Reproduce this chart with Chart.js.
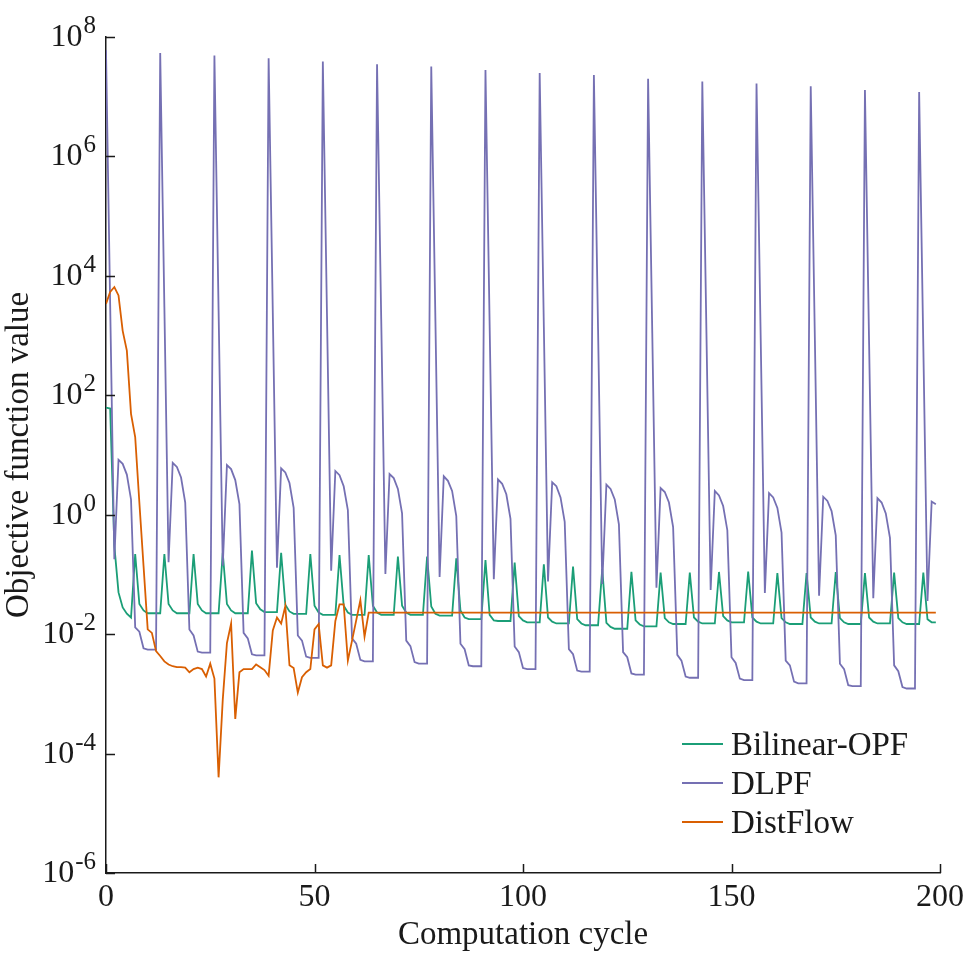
<!DOCTYPE html>
<html>
<head>
<meta charset="utf-8">
<script src="https://cdn.jsdelivr.net/npm/chart.js@4.4.1/dist/chart.umd.min.js"></script>
<style>
  html, body { margin: 0; padding: 0; background: #fff; }
  canvas { display: block; }
</style>
</head>
<body>
<canvas id="objChart" width="965" height="960"></canvas>
<script>
// computation cycle index 0..199
const cycles = Array.from({ length: 200 }, (_, i) => i);

const bilinearOpf = [
  62, 60, 0.3, 0.050, 0.028, 0.022, 0.019,
  0.22, 0.032, 0.025, 0.0224, 0.0224, 0.0224, 0.0224,
  0.22, 0.032, 0.025, 0.0224, 0.0224, 0.0224, 0.0224,
  0.22, 0.032, 0.025, 0.0224, 0.0224, 0.0224, 0.0224,
  0.23, 0.032, 0.025, 0.0224, 0.0224, 0.0224, 0.0224,
  0.25, 0.033, 0.026, 0.0234, 0.0234, 0.0234, 0.0234,
  0.23, 0.031, 0.024, 0.0219, 0.0219, 0.0219, 0.0219,
  0.22, 0.030, 0.023, 0.021, 0.021, 0.021, 0.021,
  0.21, 0.030, 0.023, 0.021, 0.021, 0.021, 0.021,
  0.21, 0.030, 0.023, 0.021, 0.021, 0.021, 0.021,
  0.20, 0.030, 0.023, 0.021, 0.021, 0.021, 0.021,
  0.20, 0.029, 0.022, 0.0204, 0.0204, 0.0204, 0.0204,
  0.186, 0.025, 0.019, 0.0178, 0.0178, 0.0178, 0.0178,
  0.174, 0.021, 0.017, 0.0166, 0.0166, 0.0166, 0.0166,
  0.158, 0.020, 0.017, 0.0158, 0.0158, 0.0158, 0.0158,
  0.148, 0.019, 0.0162, 0.0151, 0.0151, 0.0151, 0.0151,
  0.135, 0.0178, 0.0151, 0.0141, 0.0141, 0.0141, 0.0141,
  0.123, 0.0155, 0.0132, 0.0123, 0.0123, 0.0123, 0.0123,
  0.111, 0.017, 0.0145, 0.0135, 0.0135, 0.0135, 0.0135,
  0.107, 0.0186, 0.0158, 0.0148, 0.0148, 0.0148, 0.0148,
  0.107, 0.019, 0.0162, 0.0151, 0.0151, 0.0151, 0.0151,
  0.110, 0.020, 0.017, 0.0158, 0.0158, 0.0158, 0.0158,
  0.112, 0.019, 0.0162, 0.0151, 0.0151, 0.0151, 0.0151,
  0.105, 0.0186, 0.0158, 0.0148, 0.0148, 0.0148, 0.0148,
  0.105, 0.019, 0.0162, 0.0151, 0.0151, 0.0151, 0.0151,
  0.110, 0.0186, 0.0158, 0.0148, 0.0148, 0.0148, 0.0148,
  0.105, 0.019, 0.0162, 0.0151, 0.0151, 0.0151, 0.0151,
  0.107, 0.0186, 0.0158, 0.0148, 0.0148, 0.0148, 0.0148,
  0.107, 0.0178, 0.0158, 0.0158
];

const dlpf = [
  6.0e7, 3.3e3, 0.18, 8.3, 7.1, 4.7, 1.8, 1.3e-2, 1.1e-2, 5.8e-3, 5.5e-3, 5.5e-3, 5.5e-3,
  5.4e7, 3.0e3, 0.16, 7.4, 6.3, 4.2, 1.6, 1.2e-2, 9.5e-3, 5.1e-3, 4.9e-3, 4.9e-3, 4.9e-3,
  4.9e7, 2.6e3, 0.14, 6.8, 5.8, 3.8, 1.5, 1.05e-2, 8.5e-3, 4.6e-3, 4.4e-3, 4.4e-3, 4.4e-3,
  4.4e7, 2.4e3, 0.13, 6.0, 5.1, 3.4, 1.3, 9.5e-3, 7.8e-3, 4.2e-3, 4.0e-3, 4.0e-3, 4.0e-3,
  3.9e7, 2.1e3, 0.115, 5.4, 4.6, 3.0, 1.2, 8.5e-3, 6.9e-3, 3.7e-3, 3.5e-3, 3.5e-3, 3.5e-3,
  3.5e7, 1.9e3, 0.102, 4.8, 4.1, 2.7, 1.05, 7.8e-3, 6.3e-3, 3.4e-3, 3.2e-3, 3.2e-3, 3.2e-3,
  3.2e7, 1.7e3, 0.091, 4.4, 3.7, 2.5, 0.95, 6.9e-3, 5.6e-3, 3.0e-3, 2.9e-3, 2.9e-3, 2.9e-3,
  2.8e7, 1.5e3, 0.083, 3.9, 3.3, 2.2, 0.85, 6.2e-3, 5.0e-3, 2.7e-3, 2.6e-3, 2.6e-3, 2.6e-3,
  2.5e7, 1.4e3, 0.076, 3.5, 3.0, 1.95, 0.76, 5.6e-3, 4.6e-3, 2.45e-3, 2.35e-3, 2.35e-3, 2.35e-3,
  2.3e7, 1.26e3, 0.069, 3.2, 2.7, 1.8, 0.69, 5.0e-3, 4.1e-3, 2.2e-3, 2.1e-3, 2.1e-3, 2.1e-3,
  2.0e7, 1.1e3, 0.060, 2.8, 2.4, 1.6, 0.62, 4.5e-3, 3.6e-3, 1.95e-3, 1.86e-3, 1.86e-3, 1.86e-3,
  1.8e7, 1.0e3, 0.055, 2.5, 2.1, 1.4, 0.55, 4.1e-3, 3.3e-3, 1.8e-3, 1.7e-3, 1.7e-3, 1.7e-3,
  1.66e7, 910, 0.049, 2.3, 1.95, 1.3, 0.50, 3.6e-3, 3.0e-3, 1.6e-3, 1.5e-3, 1.5e-3, 1.5e-3,
  1.5e7, 810, 0.044, 2.0, 1.7, 1.15, 0.45, 3.2e-3, 2.6e-3, 1.4e-3, 1.35e-3, 1.35e-3, 1.35e-3,
  1.3e7, 720, 0.040, 1.9, 1.6, 1.05, 0.41, 3.0e-3, 2.4e-3, 1.3e-3, 1.23e-3, 1.23e-3, 1.23e-3,
  1.2e7, 660, 0.036, 1.66, 1.5
];

const distFlow = [
  3400, 5400, 6500, 4700, 1200, 560, 49, 20, 1.6, 0.14,
  0.012, 0.0105, 0.0052, 0.0043, 0.0035, 0.0031, 0.0029, 0.0028, 0.0028, 0.00275,
  0.0023, 0.0026, 0.00275, 0.0026, 0.00195, 0.0032, 0.0018, 4.0e-5, 0.0008, 0.0071,
  0.015, 0.00038, 0.0023, 0.0026, 0.0026, 0.0026, 0.0031, 0.0028, 0.0025, 0.0020,
  0.0115, 0.019, 0.015, 0.0295, 0.0030, 0.0027, 0.00105, 0.0019, 0.0023, 0.0026,
  0.012, 0.0148, 0.0030, 0.00275, 0.0030, 0.0166, 0.0316, 0.0316, 0.0036, 0.0078,
  0.017, 0.037, 0.0091,
  0.0229, 0.0229, 0.0229, 0.0229, 0.0229, 0.0229, 0.0229, 0.0229, 0.0229, 0.0229,
  0.0229, 0.0229, 0.0229, 0.0229, 0.0229, 0.0229, 0.0229, 0.0229, 0.0229, 0.0229,
  0.0229, 0.0229, 0.0229, 0.0229, 0.0229, 0.0229, 0.0229, 0.0229, 0.0229, 0.0229,
  0.0229, 0.0229, 0.0229, 0.0229, 0.0229, 0.0229, 0.0229, 0.0229, 0.0229, 0.0229,
  0.0229, 0.0229, 0.0229, 0.0229, 0.0229, 0.0229, 0.0229, 0.0229, 0.0229, 0.0229,
  0.0229, 0.0229, 0.0229, 0.0229, 0.0229, 0.0229, 0.0229, 0.0229, 0.0229, 0.0229,
  0.0229, 0.0229, 0.0229, 0.0229, 0.0229, 0.0229, 0.0229, 0.0229, 0.0229, 0.0229,
  0.0229, 0.0229, 0.0229, 0.0229, 0.0229, 0.0229, 0.0229, 0.0229, 0.0229, 0.0229,
  0.0229, 0.0229, 0.0229, 0.0229, 0.0229, 0.0229, 0.0229, 0.0229, 0.0229, 0.0229,
  0.0229, 0.0229, 0.0229, 0.0229, 0.0229, 0.0229, 0.0229, 0.0229, 0.0229, 0.0229,
  0.0229, 0.0229, 0.0229, 0.0229, 0.0229, 0.0229, 0.0229, 0.0229, 0.0229, 0.0229,
  0.0229, 0.0229, 0.0229, 0.0229, 0.0229, 0.0229, 0.0229, 0.0229, 0.0229, 0.0229,
  0.0229, 0.0229, 0.0229, 0.0229, 0.0229, 0.0229, 0.0229, 0.0229, 0.0229, 0.0229,
  0.0229, 0.0229, 0.0229, 0.0229, 0.0229, 0.0229, 0.0229
];

const xTicks = [0, 50, 100, 150, 200];
const yTicks = [1e-6, 1e-4, 1e-2, 1e0, 1e2, 1e4, 1e6, 1e8];
const yTickExps = ['-6', '-4', '-2', '0', '2', '4', '6', '8'];

const serif = '"Liberation Serif", "Times New Roman", serif';
const inkColor = '#1a1a1a';

const toPoints = vals => vals.map((v, i) => ({ x: cycles[i], y: v }));

// inward ticks, superscript y labels and the legend in the lower right
const axisDecor = {
  id: 'axisDecor',
  afterDraw(chart) {
    const { ctx, chartArea, scales: { x, y } } = chart;
    ctx.save();

    ctx.strokeStyle = inkColor;
    ctx.lineWidth = 1.5;
    ctx.beginPath();
    xTicks.forEach(v => {
      const px = Math.round(x.getPixelForValue(v)) + 0.5;
      ctx.moveTo(px, chartArea.bottom);
      ctx.lineTo(px, chartArea.bottom - 9);
    });
    yTicks.forEach(v => {
      const py = Math.round(y.getPixelForValue(v)) + 0.5;
      ctx.moveTo(chartArea.left, py);
      ctx.lineTo(chartArea.left + 9, py);
    });
    ctx.stroke();

    ctx.fillStyle = inkColor;
    ctx.textBaseline = 'alphabetic';
    ctx.textAlign = 'left';
    yTicks.forEach((v, i) => {
      const py = y.getPixelForValue(v);
      ctx.font = '32px ' + serif;
      const wBase = ctx.measureText('10').width;
      ctx.font = '25px ' + serif;
      const wExp = ctx.measureText(yTickExps[i]).width;
      const left = chartArea.left - 10 - wBase - wExp - 1;
      ctx.font = '32px ' + serif;
      ctx.fillText('10', left, py + 9);
      ctx.font = '25px ' + serif;
      ctx.fillText(yTickExps[i], left + wBase + 1, py - 4);
    });

    ctx.font = '33px ' + serif;
    chart.data.datasets.forEach((ds, i) => {
      const ly = 744 + i * 39;
      ctx.strokeStyle = ds.borderColor;
      ctx.lineWidth = 2;
      ctx.beginPath();
      ctx.moveTo(682, ly);
      ctx.lineTo(723, ly);
      ctx.stroke();
      ctx.fillStyle = inkColor;
      ctx.fillText(ds.label, 731, ly + 11);
    });

    ctx.restore();
  }
};

const ctx = document.getElementById('objChart').getContext('2d');

new Chart(ctx, {
  type: 'line',
  data: {
    datasets: [
      { label: 'Bilinear-OPF', data: toPoints(bilinearOpf), borderColor: '#1b9e77', order: 3 },
      { label: 'DLPF', data: toPoints(dlpf), borderColor: '#7570b3', order: 2 },
      { label: 'DistFlow', data: toPoints(distFlow), borderColor: '#d95f02', order: 1 }
    ]
  },
  options: {
    responsive: false,
    animation: false,
    devicePixelRatio: 1,
    layout: { padding: { top: 37, right: 25, bottom: 0, left: 0 } },
    elements: {
      line: { borderWidth: 1.8, tension: 0, fill: false },
      point: { radius: 0, hoverRadius: 0 }
    },
    plugins: {
      legend: { display: false },
      tooltip: { enabled: false }
    },
    scales: {
      x: {
        type: 'linear',
        min: 0,
        max: 200,
        afterBuildTicks: s => { s.ticks = xTicks.map(v => ({ value: v })); },
        afterFit: s => { s.height = 87; s.paddingLeft = 0; s.paddingRight = 0; },
        grid: { display: false, drawTicks: false },
        border: { display: true, color: inkColor, width: 1.5 },
        ticks: {
          padding: 5,
          maxRotation: 0,
          color: inkColor,
          font: { family: serif, size: 32 }
        },
        title: {
          display: true,
          text: 'Computation cycle',
          color: inkColor,
          font: { family: serif, size: 33 },
          padding: { top: 0, bottom: 5 }
        }
      },
      y: {
        type: 'logarithmic',
        min: 1e-6,
        max: 1e8,
        afterBuildTicks: s => { s.ticks = yTicks.map(v => ({ value: v })); },
        afterFit: s => { s.width = 106; s.paddingTop = 0; s.paddingBottom = 0; },
        grid: { display: false, drawTicks: false },
        border: { display: true, color: inkColor, width: 1.5 },
        ticks: { display: false },
        title: {
          display: true,
          text: 'Objective function value',
          color: inkColor,
          font: { family: serif, size: 33 },
          padding: { top: 0, bottom: 0 }
        }
      }
    }
  },
  plugins: [axisDecor]
});
</script>
</body>
</html>
